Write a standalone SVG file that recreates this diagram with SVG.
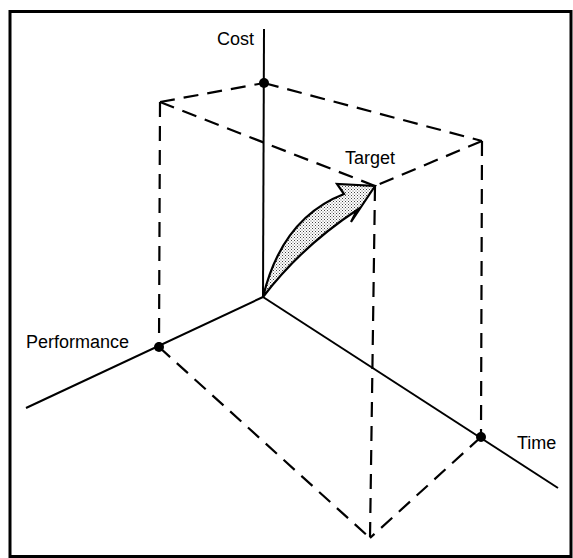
<svg xmlns="http://www.w3.org/2000/svg" width="573" height="558" viewBox="0 0 573 558">
<style>
.axis{stroke:#000;stroke-width:2;fill:none}
.dash{stroke:#000;stroke-width:2.2;fill:none;stroke-dasharray:15 9}
.lbl{font-family:"Liberation Sans",Arial,sans-serif;font-size:18px;fill:#000}
.dot{fill:#000}
</style>
<defs>
<pattern id="stip" width="3" height="3" patternUnits="userSpaceOnUse">
<rect width="3" height="3" fill="#fff"/>
<rect x="0" y="0" width="1" height="1" fill="#444"/>
<rect x="1.5" y="1.5" width="1" height="1" fill="#666"/>
</pattern>
</defs>
<rect x="10" y="11.5" width="561" height="545" fill="#fff" stroke="#000" stroke-width="3"/>
<g id="connectors">
<line class="axis" x1="263" y1="297" x2="264" y2="29"/>
<line class="axis" x1="263" y1="297" x2="26" y2="408"/>
<line class="axis" x1="263" y1="297" x2="558" y2="488"/>
<line class="dash" x1="160" y1="102" x2="264" y2="83"/>
<line class="dash" x1="264" y1="83" x2="482" y2="141"/>
<line class="dash" x1="160" y1="102" x2="375" y2="186"/>
<line class="dash" x1="482" y1="141" x2="375" y2="186"/>
<line class="dash" x1="160" y1="102" x2="159" y2="347"/>
<line class="dash" x1="482" y1="141" x2="481" y2="437"/>
<line class="dash" x1="375" y1="186" x2="370" y2="538"/>
<line class="dash" x1="159" y1="347" x2="370" y2="538"/>
<line class="dash" x1="481" y1="437" x2="370" y2="538"/>
</g>
<g id="arrow">
<path d="M263,297 Q282,218 344,194 L337,184 L375,186 L351,222 L357,210 Q301.5,246.5 263,297 Z" fill="url(#stip)" stroke="#000" stroke-width="2.2" stroke-linejoin="miter"/>
</g>
<g id="cost">
<circle class="dot" cx="264" cy="83" r="5"/>
<text class="lbl" x="217" y="45">Cost</text>
</g>
<g id="performance">
<circle class="dot" cx="159" cy="347" r="5"/>
<text class="lbl" x="26" y="348">Performance</text>
</g>
<g id="time">
<circle class="dot" cx="481" cy="437" r="5"/>
<text class="lbl" x="517" y="449">Time</text>
</g>
<g id="target">
<text class="lbl" x="345" y="164">Target</text>
</g>
</svg>
